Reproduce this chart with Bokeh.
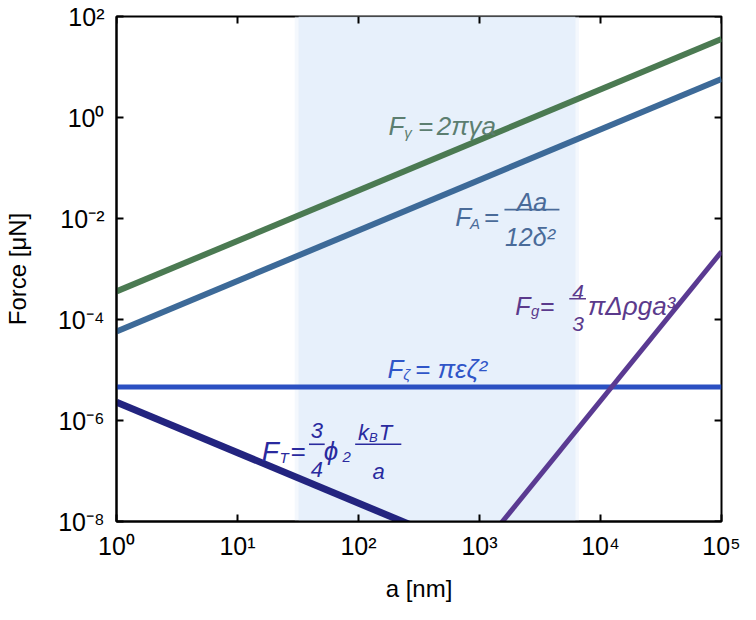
from bokeh.plotting import figure
from bokeh.models import FixedTicker, Label, CustomJSTickFormatter
from bokeh.embed import file_html
from bokeh.resources import INLINE

# ---------------- data ----------------
A_LINE = [1.0, 1e5]                 # a [nm] for linear-in-a forces
F_GAMMA = [3.6e-4, 36.0]            # F_gamma = 2*pi*gamma*a
F_VDW = [5.8e-5, 5.8]               # F_A = A a / (12 delta^2)
F_ZETA = [4.6e-6, 4.6e-6]           # F_zeta = pi eps zeta^2 (constant)
A_THERM = [1.0, 300.0]
F_THERM = [2.3e-6, 7.7e-9]          # F_T ~ 1/a
A_GRAV = [1400.0, 1e5]
F_GRAV = [7.4e-9, 2.2e-3]           # F_g ~ a^3
SHADE_A = [32.0, 6200.0]            # shaded range of a
X_TICKS = [1, 10, 100, 1e3, 1e4, 1e5]
Y_TICKS = [1e-8, 1e-6, 1e-4, 1e-2, 1, 100]
X_MIN, X_MAX = 1.0, 1e5
Y_MIN, Y_MAX = 1e-8, 1e2

C_GAMMA = "#4b7a52"
C_VDW = "#3d6a98"
C_ZETA = "#2b50c2"
C_THERM = "#23247f"
C_GRAV = "#5a3a92"

L_GAMMA = "#5c7e70"
L_VDW = "#4a6b99"
L_ZETA = "#2f55c8"
L_THERM = "#2a2a9e"
L_GRAV = "#5b3a8c"

FONT = "Liberation Sans"

p = figure(width=740, height=604, x_axis_type="log", y_axis_type="log",
           x_range=(X_MIN, X_MAX), y_range=(Y_MIN, Y_MAX),
           output_backend="svg", toolbar_location=None,
           min_border_left=109, min_border_right=19,
           min_border_top=16, min_border_bottom=82)
p.grid.visible = False
p.background_fill_color = "white"
p.border_fill_color = "white"
p.outline_line_color = "black"
p.outline_line_width = 2

# shaded band (soft edges)
p.quad(left=[SHADE_A[0] * 0.93], right=[SHADE_A[1] * 1.07], bottom=[Y_MIN], top=[Y_MAX],
       fill_color="#eaf2fb", fill_alpha=0.5, line_color=None)
p.quad(left=[SHADE_A[0]], right=[SHADE_A[1]], bottom=[Y_MIN], top=[Y_MAX],
       fill_color="#e3eefa", fill_alpha=0.8, line_color=None)

p.line(A_LINE, F_GAMMA, line_color=C_GAMMA, line_width=6)
p.line(A_LINE, F_VDW, line_color=C_VDW, line_width=6)
p.line(A_LINE, F_ZETA, line_color=C_ZETA, line_width=5)
p.line(A_THERM, F_THERM, line_color=C_THERM, line_width=7)
p.line(A_GRAV, F_GRAV, line_color=C_GRAV, line_width=5)

# axes
sup_fmt = CustomJSTickFormatter(code="""
const sup = {'-':'\u207b','0':'\u2070','1':'\u00b9','2':'\u00b2','3':'\u00b3',
             '4':'\u2074','5':'\u2075','6':'\u2076','7':'\u2077','8':'\u2078','9':'\u2079'};
const e = Math.round(Math.log10(tick));
return '10' + String(e).split('').map(c => sup[c]).join('');
""")
for ax in (p.xaxis[0], p.yaxis[0]):
    ax.major_tick_in = 7
    ax.major_tick_out = 0
    ax.minor_tick_in = 0
    ax.minor_tick_out = 0
    ax.axis_line_width = 2
    ax.major_tick_line_width = 2
    ax.formatter = sup_fmt
    ax.major_label_text_font = FONT
    ax.major_label_text_font_size = "25px"
    ax.major_label_text_color = "black"
    ax.axis_label_text_font = FONT
    ax.axis_label_text_font_size = "24px"
    ax.axis_label_text_font_style = "normal"
    ax.axis_label_text_color = "black"
p.xaxis[0].ticker = FixedTicker(ticks=X_TICKS, minor_ticks=[])
p.yaxis[0].ticker = FixedTicker(ticks=Y_TICKS, minor_ticks=[])
p.xaxis[0].axis_label = "a [nm]"
p.yaxis[0].axis_label = "Force [μN]"
p.xaxis[0].major_label_standoff = 10
p.yaxis[0].major_label_standoff = 12
p.xaxis[0].axis_label_standoff = 12
p.yaxis[0].axis_label_standoff = 24

# inward ticks on the top and right frame edges (from the tick lists)
TICK_Y = 10 ** (7 / 50.6)
TICK_X = 10 ** (7 / 122.4)
p.segment(x0=X_TICKS, y0=[Y_MAX] * len(X_TICKS), x1=X_TICKS,
          y1=[Y_MAX / TICK_Y] * len(X_TICKS), line_color="black", line_width=2)
p.segment(x0=[X_MAX] * len(Y_TICKS), y0=Y_TICKS, x1=[X_MAX / TICK_X] * len(Y_TICKS),
          y1=Y_TICKS, line_color="black", line_width=2)

# ---------------- formula labels ----------------
def dx(px):
    return 10 ** ((px - 117) / 123.2)

def dy(py):
    return 10 ** (2 - (py - 20) / 51.0)

def lab(px, py, text, size, color, align="left", italic=True):
    p.add_layout(Label(x=dx(px), y=dy(py), text=text, text_font=FONT,
                       text_font_size=f"{size}px",
                       text_font_style="italic" if italic else "normal",
                       text_color=color, text_align=align,
                       text_baseline="alphabetic"))

def bar(px0, px1, py, color):
    p.segment(x0=[dx(px0)], y0=[dy(py)], x1=[dx(px1)], y1=[dy(py)],
              line_color=color, line_width=1.6)

# F_gamma
lab(394, 131, "F", 26, L_GAMMA)
lab(410, 137, "γ", 15, L_GAMMA)
lab(424, 131, "=", 26, L_GAMMA)
lab(443, 131, "2πγa", 26, L_GAMMA)

# F_A
lab(462, 222, "F", 26, L_VDW)
lab(477, 229, "A", 15, L_VDW)
lab(491, 222, "=", 26, L_VDW)
lab(540, 207, "Aa", 25, L_VDW, "center")
bar(512, 568, 215, L_VDW)
lab(538, 243, "12δ²", 25, L_VDW, "center")

# F_g
lab(523, 312, "F", 25, L_GRAV)
lab(539, 317, "g", 15, L_GRAV)
lab(548, 312, "=", 25, L_GRAV)
lab(587, 298, "4", 21, L_GRAV, "center")
bar(578, 595, 305, L_GRAV)
lab(587, 331, "3", 21, L_GRAV, "center")
lab(597, 312, "πΔρga³", 26, L_GRAV)

# F_zeta
lab(393, 376, "F", 26, L_ZETA)
lab(409, 382, "ζ", 15, L_ZETA)
lab(421, 376, "=", 26, L_ZETA)
lab(444, 376, "πεζ²", 26, L_ZETA)

# F_T
lab(265, 459, "F", 28, L_THERM)
lab(283, 465, "T", 15, L_THERM)
lab(294, 459, "=", 26, L_THERM)
lab(321, 438, "3", 22, L_THERM, "center")
bar(313, 329, 452, L_THERM)
lab(321, 477, "4", 22, L_THERM, "center")
lab(328, 459, "ϕ", 26, L_THERM)
lab(347, 465, "2", 15, L_THERM)
lab(363, 440, "k", 22, L_THERM)
lab(374, 445, "B", 13, L_THERM)
lab(384, 440, "T", 22, L_THERM)
bar(360, 407, 452, L_THERM)
lab(384, 479, "a", 22, L_THERM, "center")

open("out.html", "w").write(file_html(p, INLINE))
